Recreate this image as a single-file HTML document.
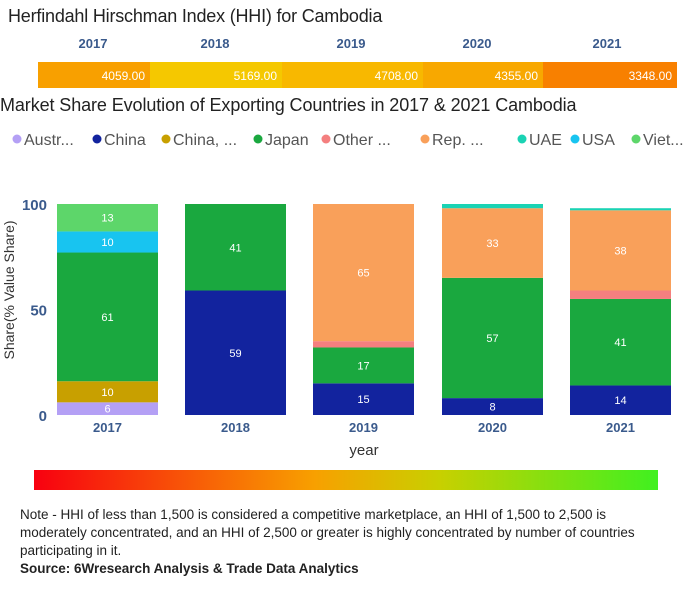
<!DOCTYPE html>
<html><head><meta charset="utf-8"><style>
body{margin:0;width:692px;height:600px;background:#fff;font-family:"Liberation Sans","DejaVu Sans",sans-serif;position:relative;overflow:hidden}
.a{position:absolute}
</style></head><body>
<div class="a" style="left:8px;top:6px;font-size:18px;color:#222;letter-spacing:-0.2px">Herfindahl Hirschman Index (HHI) for Cambodia</div>
<svg class="a" style="left:0;top:0" width="692" height="600" id="svg"></svg>
<div class="a" style="left:0;top:95px;font-size:18px;color:#222;letter-spacing:-0.1px">Market Share Evolution of Exporting Countries in 2017 &amp; 2021 Cambodia</div>
<div class="a" style="left:20px;top:506px;width:670px;font-size:13.5px;line-height:18px;color:#222;white-space:nowrap">Note - HHI of less than 1,500 is considered a competitive marketplace, an HHI of 1,500 to 2,500 is<br>moderately concentrated, and an HHI of 2,500 or greater is highly concentrated by number of countries<br>participating in it.<br><b>Source: 6Wresearch Analysis &amp; Trade Data Analytics</b></div>
<script>
const years=["2017","2018","2019","2020","2021"];
const hhi=[4059,5169,4708,4355,3348];
const hhiColors=["#f8a000","#f5c800","#f8b800","#f8a800","#f88000"];
const series=["Austr...","China","China, ...","Japan","Other ...","Rep. ...","UAE","USA","Viet..."];
const colors=["#b4a0f5","#12239e","#c8a000","#1aa83f","#f47f7f","#f9a05a","#1ad3b4","#18c4f0","#5dd66a"];
const austr=[6,0,0,0,0];
const china=[0,59,15,8,14];
const chinaHK=[10,0,0,0,0];
const japan=[61,41,17,57,41];
const other=[0,0,3,0,4];
const rep=[0,0,65,33,38];
const uae=[0,0,0,2,1];
const usa=[10,0,0,0,0];
const viet=[13,0,0,0,0];
const values=[austr,china,chinaHK,japan,other,rep,uae,usa,viet];
const yTicks=[0,50,100];
const svg=document.getElementById('svg');
const NS="http://www.w3.org/2000/svg";
function mk(t,a,txt){const e=document.createElementNS(NS,t);for(const k in a)e.setAttribute(k,a[k]);if(txt!=null)e.textContent=txt;svg.appendChild(e);return e;}
const hb=[38,150,282,423,543,677];
years.forEach((y,i)=>{
 const r=mk('rect',{x:hb[i],y:62,width:hb[i+1]-hb[i],height:26,fill:hhiColors[i]});
 
 
 const t=mk('text',{x:hb[i+1]-5,y:80,'text-anchor':'end','font-size':12,fill:'#fff'},hhi[i].toFixed(2));
 
 
 const h=mk('text',{x:[93,215,351,477,607][i],y:48,'text-anchor':'middle','font-size':13,'font-weight':'bold',fill:'#3a5a8c'},y);
 
 
});
const lx=[12,92,161,253,321,420,517,570,631];
series.forEach((s,i)=>{
 const c=mk('circle',{cx:lx[i]+5,cy:139,r:4.5,fill:colors[i]});
 
 
 const t=mk('text',{x:lx[i]+12,y:145,'font-size':16,fill:'#555'},s);
 
 
});
const y0=415,y100=204;
const yS=v=>y0-(v/100)*(y0-y100);
const bx=[57,185,313,442,570],bw=101;
yTicks.forEach(v=>{
 const t=mk('text',{x:47,y:yS(v)+6,'text-anchor':'end','font-size':15,'font-weight':'bold',fill:'#3a5a8c'},v);
 
 
});
const yt=mk('text',{x:0,y:0,transform:'translate(14,290) rotate(-90)','text-anchor':'middle','font-size':14,fill:'#333'},'Share(% Value Share)');


const xt=mk('text',{x:364,y:455,'text-anchor':'middle','font-size':15,fill:'#333'},'year');


years.forEach((y,i)=>{
 let acc=0;
 values.forEach((arr,s)=>{
  const v=arr[i];if(!v)return;
  const top=yS(acc+v),bot=yS(acc);
  const r=mk('rect',{x:bx[i],y:top,width:bw,height:bot-top,fill:colors[s]});
  
  
  if(v>=5){const t=mk('text',{x:bx[i]+bw/2,y:(top+bot)/2+4,'text-anchor':'middle','font-size':11,fill:'#fff'},v);
   
   }
  acc+=v;
 });
 const t=mk('text',{x:bx[i]+bw/2,y:432,'text-anchor':'middle','font-size':13,'font-weight':'bold',fill:'#3a5a8c'},y);
 
 
});
const d=mk('defs',{});
d.innerHTML='<linearGradient id="g"><stop offset="0" stop-color="#f80010"/><stop offset="0.45" stop-color="#f8a000"/><stop offset="0.65" stop-color="#c8d000"/><stop offset="1" stop-color="#40f020"/></linearGradient>';
const g=mk('rect',{x:34,y:470,width:624,height:20,fill:'url(#g)'});


</script>
</body></html>
